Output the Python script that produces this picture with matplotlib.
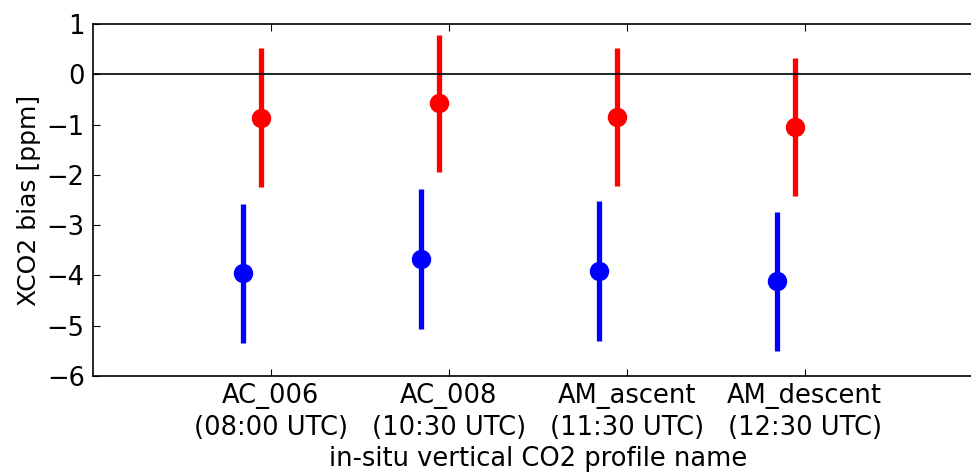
import numpy as np
import matplotlib
matplotlib.use('Agg')
import matplotlib.pyplot as plt

# profile names and the two bias estimates with their spread
profiles = ['AC_006\n(08:00 UTC)', 'AC_008\n(10:30 UTC)',
            'AM_ascent\n(11:30 UTC)', 'AM_descent\n(12:30 UTC)']
red_bias = [-0.86, -0.58, -0.85, -1.05]
red_err = [1.38, 1.37, 1.38, 1.38]
blue_bias = [-3.96, -3.67, -3.92, -4.12]
blue_err = [1.39, 1.39, 1.39, 1.39]

plt.rcParams['font.family'] = 'DejaVu Sans'
plt.rcParams['font.size'] = 18

fig = plt.figure(figsize=(9.71, 4.72), dpi=100)
ax = fig.add_axes([0.0958, 0.2034, 0.916, 0.7458])

x = np.arange(1, len(profiles) + 1)
ax.errorbar(x - 0.055, red_bias, yerr=red_err, fmt='o', color='red',
            ms=13, elinewidth=3.8, capsize=0, mec='red')
ax.errorbar(x - 0.155, blue_bias, yerr=blue_err, fmt='o', color='blue',
            ms=13, elinewidth=3.8, capsize=0, mec='blue')
ax.axhline(0, color='k', lw=1.2)

ax.set_xlim(0, 5)
ax.set_ylim(-6, 1)
ax.set_xticks(x)
ax.set_xticklabels(profiles, fontsize=18.5, linespacing=1.3)
ax.set_yticks(np.arange(-6, 2))
ax.tick_params(direction='in', length=5, top=True, right=True, labelsize=18.5)
ax.tick_params(axis='x', pad=5)
ax.tick_params(axis='y', pad=6)
ax.set_xlabel('in-situ vertical CO2 profile name', fontsize=18.5, labelpad=4)
ax.set_ylabel('XCO2 bias [ppm]', fontsize=18)
for s in ax.spines.values():
    s.set_linewidth(1.2)

plt.savefig('out.png', dpi=100)
